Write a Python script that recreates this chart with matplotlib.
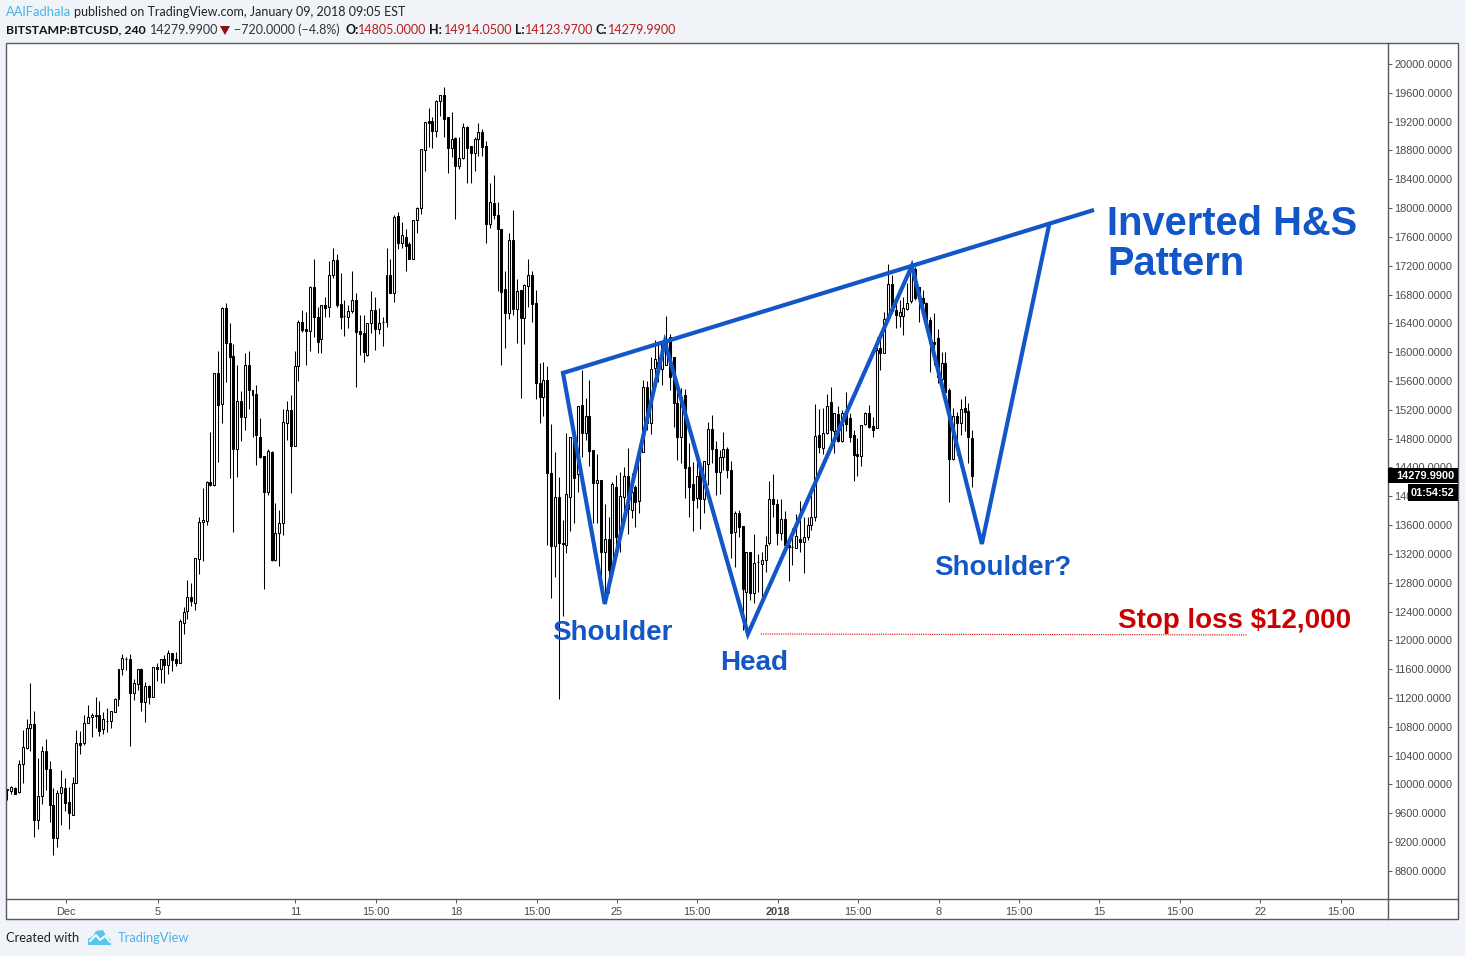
import numpy as np
import matplotlib
matplotlib.use("Agg")
import matplotlib.pyplot as plt
from matplotlib.patches import Rectangle, Polygon

W, H = 1465, 956

opens = [
    9930, 9914, 9946, 9890, 10279, 10510, 10779, 10834, 9511, 9844,
    10460, 10210, 9710, 9261, 9877, 9950, 9756, 9571, 10015, 10571,
    10580, 10848, 10932, 10960, 10960, 10765, 10885, 10885, 11010, 11181,
    11598, 11737, 11737, 11265, 11394, 11598, 11149, 11362, 11218, 11626,
    11598, 11737, 11654, 11825, 11737, 11690, 12236, 12403, 12597, 12523,
    13134, 13638, 13661, 14193, 14156, 15706, 15276, 16613, 16132, 15946,
    14660, 15317, 15104, 15817, 15475, 15419, 14818, 14559, 14059, 14614,
    13115, 13485, 13624, 15012, 15192, 14702, 15803, 16414, 16317, 16298,
    16900, 16483, 16178, 16650, 16622, 17066, 17275, 16668, 16502, 16493,
    16567, 16719, 16294, 16261, 15960, 16400, 16580, 16317, 16423, 16414,
    17066, 16826, 17885, 17510, 17603, 17501, 17298, 17830, 17997, 18802,
    19204, 19204, 19075, 19491, 19565, 19260, 18839, 18968, 18589, 18691,
    19130, 18862, 18760, 18954, 19052, 18862, 17775, 18066, 17909, 17714,
    16872, 16539, 17552, 16604, 16863, 16479, 16918, 17066, 16678, 15567,
    15382, 15610, 14319, 13315, 13986, 13347, 13319, 13995, 14818, 14305,
    15263, 14883, 15110, 14638, 14189, 14222, 13227, 13403, 12977, 14130,
    13430, 13995, 14277, 13810, 14129, 13939, 14620, 15513, 15013, 15785,
    15869, 15767, 15823, 16207, 15929, 15300, 14828, 15406, 14402, 14171,
    13981, 14388, 13967, 14444, 14930, 14652, 14342, 14541, 14652, 14360,
    13509, 13764, 13588, 12674, 13231, 12653, 13093, 13055, 13110, 13356,
    13957, 13888, 13494, 13679, 13318, 13290, 13286, 13402, 13369, 13439,
    13596, 13716, 14850, 14674, 14873, 15304, 14910, 15142, 14771, 15160,
    15081, 14845, 14586, 14563, 15003, 15151, 14975, 14952, 16058, 15993,
    16456, 16946, 16585, 16506, 16506, 16603, 16715, 17154, 16900, 16747,
    16678, 16446, 16146, 16192, 15623, 15854, 15475, 14512, 15114, 15012,
    15220, 15178, 14805,
]
highs = [
    9935, 9978, 9960, 10340, 10756, 10908, 11408, 11019, 10362, 10534,
    10626, 10325, 9950, 9923, 10200, 10085, 9969, 10099, 10756, 10742,
    10964, 11103, 10987, 11209, 11158, 11010, 11061, 11015, 11195, 11598,
    11811, 11774, 11811, 11459, 11598, 11612, 11422, 11380, 11626, 11681,
    11737, 11797, 11866, 11825, 11839, 12292, 12468, 12838, 12801, 13139,
    13708, 14110, 14207, 14887, 15706, 16016, 16622, 16678, 16400, 16108,
    15822, 15461, 15984, 16016, 15475, 15544, 15081, 14559, 14651, 14632,
    13901, 13809, 15206, 15322, 15405, 16016, 16446, 16585, 16557, 16918,
    17288, 16622, 16659, 16761, 17270, 17441, 17358, 17094, 16724, 16650,
    17126, 16816, 16516, 16516, 16400, 16849, 16761, 16608, 16493, 17441,
    17288, 17899, 17941, 17811, 17705, 17534, 17830, 18010, 18816, 19190,
    19389, 19260, 19500, 19565, 19676, 19260, 19329, 18982, 18982, 19186,
    19139, 18862, 18991, 19176, 19093, 18931, 18344, 18459, 18080, 17714,
    17127, 17650, 17973, 17011, 16863, 16946, 17293, 17127, 16863, 15845,
    15868, 15809, 14999, 14610, 14263, 13671, 14874, 14818, 14910, 15258,
    15753, 15360, 15614, 14638, 14583, 14222, 13888, 13717, 14198, 14300,
    14333, 14402, 14666, 14319, 14157, 14620, 15614, 15600, 15938, 16170,
    16123, 16123, 16503, 16253, 15929, 15476, 15499, 15485, 14735, 14481,
    14583, 14388, 14485, 15036, 15124, 14768, 14643, 14893, 14689, 14490,
    13796, 13810, 13588, 13231, 13231, 13477, 13194, 13230, 13448, 14211,
    14309, 13957, 13957, 13795, 13415, 13554, 13749, 13929, 13716, 13716,
    14124, 15280, 15206, 15220, 15414, 15521, 15151, 15253, 15197, 15442,
    15151, 14919, 14804, 14984, 15165, 15266, 15105, 16206, 16192, 16562,
    17224, 17071, 16724, 16724, 16770, 16955, 17242, 17187, 16900, 16863,
    16701, 16493, 16539, 16317, 16007, 16007, 15498, 15220, 15174, 15345,
    15391, 15290, 14914,
]
lows = [
    9785, 9867, 9867, 9886, 10025, 10497, 10469, 9275, 9386, 9728,
    9923, 9483, 9025, 9136, 9437, 9631, 9386, 9571, 10015, 10423,
    10552, 10848, 10663, 10779, 10672, 10700, 10733, 10783, 11001, 11089,
    11519, 11589, 10534, 11172, 11311, 11024, 10871, 11117, 11218, 11436,
    11413, 11413, 11533, 11579, 11649, 11681, 12093, 12301, 12477, 12421,
    12921, 13106, 13601, 14142, 14147, 14480, 15021, 15590, 14258, 13508,
    14272, 14771, 14919, 15211, 14827, 14434, 14526, 12717, 14017, 13105,
    13105, 13036, 13462, 14781, 14049, 14702, 15599, 16280, 15822, 16020,
    16215, 15993, 15993, 16483, 16483, 17025, 16631, 16317, 16229, 16331,
    16539, 15521, 15960, 15868, 15951, 16261, 16030, 16252, 16090, 16354,
    16826, 16701, 17432, 17450, 17131, 17288, 17298, 17659, 17918, 18519,
    18853, 18834, 18991, 19278, 18991, 18492, 18714, 17853, 18538, 18681,
    18344, 18344, 18519, 18723, 18723, 17520, 17719, 17853, 16849, 15822,
    16058, 16456, 16511, 16132, 15368, 16113, 16632, 16423, 15345, 15022,
    15114, 13324, 12583, 12884, 11182, 12338, 13218, 13523, 13634, 14064,
    14550, 14781, 14415, 13625, 13625, 12884, 12514, 12653, 12884, 13310,
    13227, 13717, 13477, 13694, 13569, 13773, 14620, 14920, 14865, 15605,
    15591, 15545, 15823, 15475, 14967, 14504, 14459, 13972, 13717, 13523,
    13833, 13546, 13763, 14157, 14457, 14018, 14032, 14365, 14249, 13140,
    13023, 13440, 12144, 12075, 12560, 12514, 12676, 12592, 12953, 13323,
    13716, 13323, 13392, 13207, 12828, 13045, 13277, 13230, 12939, 13392,
    13531, 13661, 14596, 14586, 14864, 14688, 14605, 14757, 14757, 14900,
    14757, 14216, 14281, 14420, 14989, 14943, 14827, 14943, 15752, 15984,
    16446, 16539, 16331, 16354, 16238, 16580, 16678, 16724, 16423, 16655,
    16300, 15729, 15822, 15567, 15567, 15428, 13925, 14503, 14572, 14850,
    14900, 14457, 14124,
]
closes = [
    9920, 9965, 9872, 10279, 10515, 10779, 10834, 9511, 9835, 10460,
    10210, 9719, 9261, 9877, 9960, 9747, 9608, 10015, 10571, 10552,
    10848, 10932, 10960, 10955, 10746, 10904, 10885, 11015, 11181, 11598,
    11750, 11737, 11265, 11404, 11598, 11149, 11362, 11209, 11626, 11603,
    11737, 11663, 11825, 11728, 11690, 12264, 12389, 12597, 12551, 13139,
    13638, 13666, 14198, 14155, 15706, 15262, 16613, 16132, 15937, 14660,
    15317, 15104, 15817, 15475, 15405, 14850, 14540, 14059, 14623, 13115,
    13485, 13624, 15026, 15192, 14702, 15803, 16414, 16307, 16298, 16900,
    16483, 16145, 16650, 16617, 17066, 17275, 16650, 16493, 16502, 16567,
    16719, 16284, 16257, 16007, 16400, 16580, 16317, 16400, 16423, 17066,
    16826, 17871, 17510, 17622, 17478, 17298, 17830, 17996, 18816, 19190,
    19186, 19075, 19482, 19565, 19241, 18839, 18964, 18589, 18691, 19121,
    18839, 18769, 18954, 19052, 18853, 17775, 18080, 17909, 17714, 16840,
    16539, 17552, 16604, 16844, 16479, 16928, 17066, 16664, 15567, 15382,
    15609, 14319, 13315, 13986, 13347, 13340, 14027, 14818, 14249, 15258,
    14883, 15110, 14633, 14189, 14222, 13227, 13403, 12977, 14171, 13430,
    14004, 14277, 13819, 14064, 13925, 14620, 15513, 15013, 15772, 15901,
    15776, 16123, 16170, 15661, 15300, 14828, 15374, 14397, 14134, 13949,
    14277, 13967, 14485, 14930, 14652, 14342, 14541, 14652, 14360, 13486,
    13764, 13578, 12708, 13231, 12653, 13079, 13093, 13110, 13318, 13957,
    13888, 13494, 13679, 13318, 13290, 13290, 13448, 13365, 13439, 13596,
    13716, 14836, 14688, 14873, 15253, 14919, 15151, 14771, 15160, 15000,
    14827, 14577, 14563, 14984, 15151, 14966, 14919, 16030, 15984, 16456,
    16946, 16576, 16516, 16557, 16608, 16678, 17140, 16747, 16747, 16678,
    16446, 16122, 16113, 15660, 15854, 15451, 14512, 15114, 15012, 15206,
    15174, 14818, 14280,
]

# time axis, in candle numbers
tick_pos = [15.3, 39.2, 75.2, 96.2, 117.2, 138.2, 159.2, 180.2, 201.2,
            222.2, 243.2, 264.2, 285.2, 306.2, 327.2, 348.2]
tick_labels = ["Dec", "5", "11", "15:00", "18", "15:00", "25", "15:00", "2018",
               "15:00", "8", "15:00", "15", "15:00", "22", "15:00"]
price_ticks = list(range(8800, 20001, 400))

# drawn pattern
neck_x = [145.1, 283.8]
neck_y = [15711, 17974]
pattern_x = [145.1, 156.0, 171.7, 193.4, 236.2, 254.5, 272.0]
pattern_y = [15711, 12505, 16141, 12088, 17196, 13338, 17751]
stop_x = [196.8, 323.9]
stop_y = [12088, 12075]

BG = "#f0f3f7"
FRAME = "#5a5a5a"
BLUE = "#1256c8"
RED = "#cc0000"
HDR_RED = "#b71c1c"
LINK = "#4bb3e6"
SANS = "Liberation Sans"
UI = "Lato"


def box(left, top, right, bottom):
    return [left / W, 1 - bottom / H, (right - left) / W, (bottom - top) / H]


fig = plt.figure(figsize=(W / 100, H / 100), dpi=100, facecolor=BG)

back = fig.add_axes([0, 0, 1, 1], zorder=0)
back.set_xlim(0, W)
back.set_ylim(H, 0)
back.axis("off")
back.add_patch(Rectangle((5.5, 42.5), 1452, 876, facecolor="white", edgecolor=FRAME, lw=1))
back.plot([1387.5, 1387.5], [42.5, 918.5], color=FRAME, lw=1)
back.plot([5.5, 1457.5], [898.5, 898.5], color=FRAME, lw=1)

ax = fig.add_axes(box(6.7, 43, 1387.7, 899), zorder=1)
ax.patch.set_alpha(0)
ax.set_xlim(-0.2, 360.5)
ax.set_ylim(8410, 20291)
for s in ax.spines.values():
    s.set_visible(False)

x = np.arange(len(opens))
o = np.array(opens, dtype=float)
c = np.array(closes, dtype=float)
up = c >= o

ax.vlines(x, lows, highs, color="black", lw=0.75, zorder=2)
ax.bar(x[up], (c - o)[up], bottom=o[up], width=0.52, facecolor="white",
       edgecolor="black", linewidth=0.75, zorder=3)
ax.bar(x[~up], (c - o)[~up], bottom=o[~up], width=0.52, facecolor="black",
       edgecolor="black", linewidth=0.75, zorder=3)

ax.plot(neck_x, neck_y, color=BLUE, lw=3, solid_capstyle="butt", zorder=5)
ax.plot(pattern_x, pattern_y, color=BLUE, lw=3, solid_joinstyle="miter", zorder=5)
ax.plot(stop_x, stop_y, color=RED, lw=0.8, ls=(0, (1, 1)), zorder=4)

ax.yaxis.tick_right()
ax.set_yticks(price_ticks)
ax.set_yticklabels([f"{p}.0000" for p in price_ticks], fontfamily=SANS, fontsize=7.9, color="#4a4a4a")
ax.tick_params(axis="y", length=3, width=0.75, color=FRAME, pad=2)
ax.set_xticks(tick_pos)
ax.set_xticklabels(tick_labels, fontfamily=SANS, fontsize=7.9, color="#4a4a4a")
ax.get_xticklabels()[8].set_fontweight("bold")
ax.tick_params(axis="x", length=3, width=0.75, color=FRAME, pad=3)

front = fig.add_axes([0, 0, 1, 1], zorder=2)
front.patch.set_alpha(0)
front.set_xlim(0, W)
front.set_ylim(H, 0)
front.axis("off")

# last price flags
front.add_patch(Rectangle((1388, 468), 70, 15, facecolor="black", edgecolor="none"))
front.add_patch(Rectangle((1408, 484), 50, 17, facecolor="black", edgecolor="none"))
front.text(1396, 476, "14279.9900", color="white", fontfamily=SANS, fontsize=7.9, fontweight="bold", va="center")
front.text(1411, 493, "01:54:52", color="white", fontfamily=SANS, fontsize=7.9, fontweight="bold", va="center")

# pattern labels
big = dict(color=BLUE, fontfamily=SANS, fontweight="bold", va="baseline")
front.text(1107, 235, "Inverted H&S", fontsize=28.7, **big)
front.text(1107, 275, "Pattern", fontsize=28.7, **big)
front.text(552, 640, "Shoulder", fontsize=20, **big)
front.text(720, 670, "Head", fontsize=20, **big)
front.text(934, 575, "Shoulder?", fontsize=20, **big)
front.text(1118, 628, "Stop loss $12,000", fontsize=20, color=RED, fontfamily=SANS,
           fontweight="bold", va="baseline")

# header
hdr = dict(fontfamily=UI, fontsize=9, va="center")
front.text(6, 12, "AAlFadhala", color=LINK, fontfamily=UI, fontsize=9.4, va="center")
front.text(74, 12, "published on TradingView.com, January 09, 2018 09:05 EST", color="#222222", **hdr)
front.text(6, 29.5, "BITSTAMP:BTCUSD, 240", color="#111111", fontweight="bold", fontfamily=UI, fontsize=8.8, va="center")
front.text(150, 29.5, "14279.9900", color="#333333", **hdr)
front.add_patch(Polygon([(220, 26), (230, 26), (225, 35)], facecolor="#8b0f0f", edgecolor="none"))
front.text(234, 29.5, "\u2212720.0000 (\u22124.8%)", color="#333333", **hdr)
for lab, lx, val, vx in [("O:", 345, "14805.0000", 358), ("H:", 429, "14914.0500", 444),
                         ("L:", 515, "14123.9700", 525), ("C:", 596, "14279.9900", 608)]:
    front.text(lx, 29.5, lab, color="#111111", fontweight="bold", **hdr)
    front.text(vx, 29.5, val, color=HDR_RED, **hdr)

# footer
front.text(6, 938, "Created with", color="#222222", fontfamily=UI, fontsize=9.3, va="center")
front.text(118, 938, "TradingView", color=LINK, fontfamily=UI, fontsize=9.3, va="center")
logo = "#5cc3ea"
front.add_patch(Polygon([(88, 945), (88, 939), (93, 936), (96, 931), (103, 930), (106, 936), (111, 940), (111, 945)],
                        facecolor=logo, edgecolor="none"))
front.plot([90, 96, 100, 105, 110], [941, 935, 940, 936, 942], color="white", lw=1.4)

fig.savefig("out.png", dpi=100, facecolor=BG)
